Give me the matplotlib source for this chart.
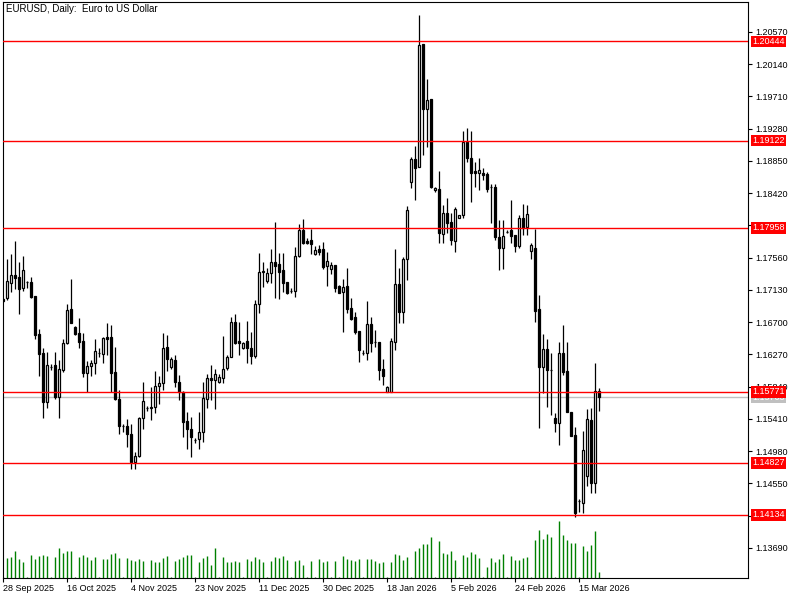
import numpy as np
import matplotlib
matplotlib.use('Agg')
import matplotlib.pyplot as plt

plt.rcParams['font.family'] = ['Liberation Sans', 'DejaVu Sans']
plt.rcParams['font.size'] = 6.5

# EURUSD daily bars, 28 Sep 2025 .. 20 Mar 2026 (broker has Sunday bars)
opens = [1.17010, 1.17023, 1.17223, 1.17330, 1.17303, 1.17157, 1.17237, 1.17237, 1.17050, 1.16543,
         1.16290, 1.15637, 1.16103, 1.16130, 1.15703, 1.16063, 1.16423, 1.16877, 1.16637, 1.16557,
         1.16450, 1.16023, 1.16117, 1.16157, 1.16290, 1.16277, 1.16503, 1.16503, 1.16037, 1.15677,
         1.15317, 1.15317, 1.15210, 1.14837, 1.14917, 1.15423, 1.15557, 1.15557, 1.15570, 1.15850,
         1.15890, 1.16370, 1.16103, 1.16197, 1.15903, 1.15770, 1.15383, 1.15277, 1.15130, 1.15143,
         1.15237, 1.15677, 1.15957, 1.15930, 1.15903, 1.15957, 1.16090, 1.16237, 1.16703, 1.16450,
         1.16357, 1.16450, 1.16357, 1.16250, 1.16943, 1.17370, 1.17250, 1.17357, 1.17503, 1.17477,
         1.17397, 1.17237, 1.17117, 1.17117, 1.17583, 1.17930, 1.17783, 1.17797, 1.17610, 1.17677,
         1.17677, 1.17450, 1.17410, 1.17463, 1.17183, 1.17103, 1.17183, 1.16890, 1.16770, 1.16583,
         1.16290, 1.16290, 1.16677, 1.16437, 1.16437, 1.16077, 1.15770, 1.15770, 1.16437, 1.17210,
         1.16837, 1.17543, 1.18570, 1.18877, 1.18770, 1.20410, 1.19543, 1.19677, 1.18463, 1.18477,
         1.17877, 1.18157, 1.18037, 1.17783, 1.18090, 1.18130, 1.19103, 1.18890, 1.18717, 1.18690,
         1.18690, 1.18677, 1.18503, 1.18503, 1.17837, 1.17690, 1.17903, 1.17930, 1.17863, 1.17717,
         1.18090, 1.17970, 1.17650, 1.17690, 1.16877, 1.16103, 1.16343, 1.16063, 1.15423, 1.15357,
         1.16290, 1.16050, 1.15503, 1.15197, 1.14317, 1.14290, 1.14650, 1.15397, 1.14557, 1.15783]
highs = [1.17023, 1.17543, 1.17610, 1.17783, 1.17503, 1.17583, 1.17250, 1.17303, 1.17050, 1.16610,
         1.16357, 1.16303, 1.16143, 1.16303, 1.16197, 1.16477, 1.16943, 1.17277, 1.16650, 1.16757,
         1.16557, 1.16183, 1.16197, 1.16477, 1.16357, 1.16503, 1.16690, 1.16663, 1.16370, 1.15797,
         1.15343, 1.15410, 1.15343, 1.14970, 1.15437, 1.15903, 1.15583, 1.15837, 1.16050, 1.15983,
         1.16557, 1.16530, 1.16237, 1.16263, 1.15997, 1.15783, 1.15503, 1.15437, 1.15157, 1.15503,
         1.15903, 1.16010, 1.16130, 1.16077, 1.16010, 1.16517, 1.16263, 1.16770, 1.16810, 1.16703,
         1.16437, 1.16717, 1.16570, 1.16997, 1.17623, 1.17503, 1.17423, 1.17677, 1.18037, 1.17623,
         1.17623, 1.17237, 1.17157, 1.17703, 1.18010, 1.18077, 1.17823, 1.17943, 1.17717, 1.17730,
         1.17770, 1.17637, 1.17503, 1.17463, 1.17197, 1.17277, 1.17423, 1.17023, 1.16837, 1.16583,
         1.16330, 1.16983, 1.16770, 1.16597, 1.16437, 1.16210, 1.15850, 1.16490, 1.17677, 1.17423,
         1.17570, 1.18250, 1.18903, 1.19050, 1.20797, 1.20415, 1.19943, 1.19680, 1.18503, 1.18717,
         1.18263, 1.18357, 1.18157, 1.18237, 1.18135, 1.19250, 1.19290, 1.19250, 1.18837, 1.18890,
         1.18757, 1.18703, 1.18543, 1.18543, 1.18063, 1.18063, 1.17930, 1.18330, 1.17863, 1.18130,
         1.18277, 1.18263, 1.17757, 1.17943, 1.17063, 1.16543, 1.16477, 1.16290, 1.15490, 1.16437,
         1.16663, 1.16437, 1.15505, 1.15303, 1.14343, 1.15250, 1.15543, 1.15557, 1.16157, 1.15823]
lows = [1.16970, 1.16997, 1.17103, 1.17143, 1.16810, 1.17117, 1.17157, 1.17023, 1.16477, 1.15983,
        1.15423, 1.15557, 1.16063, 1.15677, 1.15423, 1.16037, 1.16410, 1.16685, 1.16530, 1.16357,
        1.15970, 1.15770, 1.15983, 1.16010, 1.16237, 1.16157, 1.16263, 1.15770, 1.15663, 1.15210,
        1.15237, 1.15037, 1.14743, 1.14743, 1.14903, 1.15277, 1.15517, 1.15397, 1.15490, 1.15610,
        1.15797, 1.16050, 1.16077, 1.15837, 1.15663, 1.15170, 1.15010, 1.14903, 1.15090, 1.15010,
        1.15103, 1.15557, 1.15663, 1.15543, 1.15890, 1.15890, 1.16063, 1.16230, 1.16410, 1.16263,
        1.16343, 1.16157, 1.16143, 1.16223, 1.16823, 1.17170, 1.17223, 1.17223, 1.17023, 1.17010,
        1.17103, 1.17077, 1.17090, 1.17037, 1.17570, 1.17743, 1.17743, 1.17610, 1.17597, 1.17597,
        1.17410, 1.17183, 1.17343, 1.17103, 1.17085, 1.16570, 1.16823, 1.16730, 1.16543, 1.16170,
        1.16263, 1.16197, 1.16303, 1.16370, 1.15930, 1.15863, 1.15765, 1.15765, 1.16330, 1.16690,
        1.16690, 1.17263, 1.18490, 1.18330, 1.18765, 1.18930, 1.19037, 1.18495, 1.18437, 1.17757,
        1.17757, 1.17890, 1.17730, 1.17637, 1.18085, 1.18090, 1.18837, 1.18303, 1.18503, 1.18463,
        1.18597, 1.18437, 1.18023, 1.17797, 1.17397, 1.17410, 1.17890, 1.17757, 1.17637, 1.17690,
        1.17863, 1.17863, 1.17543, 1.16703, 1.15290, 1.15757, 1.15570, 1.15463, 1.15237, 1.15063,
        1.15997, 1.15497, 1.15177, 1.14103, 1.14170, 1.14157, 1.14517, 1.14423, 1.14423, 1.15517]
closes = [1.16983, 1.17250, 1.17330, 1.17290, 1.17143, 1.17397, 1.17240, 1.17037, 1.16530, 1.16277,
          1.15637, 1.16130, 1.16100, 1.15703, 1.16077, 1.16423, 1.16863, 1.16690, 1.16543, 1.16437,
          1.16023, 1.16117, 1.16157, 1.16317, 1.16288, 1.16490, 1.16477, 1.16023, 1.15677, 1.15317,
          1.15320, 1.15210, 1.14837, 1.14917, 1.15423, 1.15650, 1.15560, 1.15570, 1.15850, 1.15890,
          1.16357, 1.16210, 1.16210, 1.15903, 1.15770, 1.15370, 1.15277, 1.15170, 1.15133, 1.15237,
          1.15690, 1.15957, 1.15930, 1.16010, 1.15970, 1.16077, 1.16237, 1.16703, 1.16423, 1.16423,
          1.16423, 1.16357, 1.16250, 1.16943, 1.17370, 1.17383, 1.17357, 1.17503, 1.17450, 1.17370,
          1.17223, 1.17090, 1.17120, 1.17583, 1.17930, 1.17757, 1.17757, 1.17743, 1.17663, 1.17637,
          1.17437, 1.17517, 1.17463, 1.17157, 1.17090, 1.17170, 1.16877, 1.16743, 1.16570, 1.16330,
          1.16293, 1.16677, 1.16423, 1.16440, 1.16063, 1.15983, 1.15837, 1.16450, 1.17210, 1.16837,
          1.17543, 1.18197, 1.18877, 1.18757, 1.20397, 1.19543, 1.19663, 1.18503, 1.18490, 1.17890,
          1.18157, 1.18023, 1.17797, 1.18210, 1.18130, 1.19103, 1.18890, 1.18690, 1.18690, 1.18730,
          1.18663, 1.18477, 1.18500, 1.17837, 1.17690, 1.17850, 1.17900, 1.17850, 1.17717, 1.18090,
          1.17957, 1.18143, 1.17730, 1.16850, 1.16103, 1.16343, 1.16063, 1.16060, 1.15357, 1.16290,
          1.16037, 1.15503, 1.15183, 1.14157, 1.14320, 1.14997, 1.15410, 1.14557, 1.15783, 1.15703]
# tick volume, thousands
volumes = [3, 60, 63, 81, 57, 48, 3, 69, 57, 66, 69, 66, 3, 63, 90, 75, 81, 81,
           3, 63, 69, 63, 54, 63, 3, 57, 57, 72, 75, 60, 3, 60, 54, 51, 57, 51,
           3, 54, 48, 48, 60, 66, 3, 51, 57, 63, 69, 69, 3, 48, 60, 66, 39, 90,
           3, 63, 48, 48, 51, 48, 3, 57, 51, 63, 57, 48, 3, 51, 63, 60, 66, 54,
           3, 51, 54, 39, 3, 51, 3, 57, 48, 51, 3, 51, 3, 66, 57, 54, 51, 57,
           3, 57, 57, 51, 45, 48, 3, 48, 72, 69, 54, 63, 3, 81, 90, 102, 102, 123,
           3, 111, 75, 72, 81, 54, 3, 69, 63, 78, 72, 60, 3, 33, 60, 48, 57, 72,
           3, 66, 54, 54, 60, 63, 3, 114, 144, 117, 132, 123, 3, 171, 129, 114, 105, 105,
           3, 96, 81, 99, 141, 18]

date_labels = ['28 Sep 2025', '16 Oct 2025', '4 Nov 2025', '23 Nov 2025', '11 Dec 2025',
               '30 Dec 2025', '18 Jan 2026', '5 Feb 2026', '24 Feb 2026', '15 Mar 2026']
date_bars = [0, 16, 32, 48, 64, 80, 96, 112, 128, 144]
price_ticks = [1.13690, 1.14120, 1.14550, 1.14980, 1.15410, 1.15840, 1.16270, 1.16700, 1.17130,
               1.17560, 1.17990, 1.18420, 1.18850, 1.19280, 1.19710, 1.20140, 1.20570]
# these two sit under the level boxes, MT hides them
hidden_ticks = [1.14120, 1.17990]
levels = [1.20444, 1.19122, 1.17958, 1.15771, 1.14827, 1.14134]

o = np.array(opens)
h = np.array(highs)
l = np.array(lows)
c = np.array(closes)
x = np.arange(len(o))
up = c >= o

fig = plt.figure(figsize=(8, 6), dpi=100)
ax = fig.add_axes([2.5/800, 22/600, 745.5/800, 576/600])
ax.set_xlim(-0.05, 186.3)
ax.set_ylim(1.13290, 1.20970)

# volumes at the bottom
ax.vlines(x, 0, np.array(volumes) / 1728.0, transform=ax.get_xaxis_transform(),
          color='#008000', lw=1.0, zorder=1)

# candles
ax.vlines(x, l, h, color='black', lw=0.9, zorder=2)
ax.bar(x[up], c[up] - o[up], bottom=o[up], width=0.5, color='white',
       edgecolor='black', lw=0.9, zorder=3)
ax.bar(x[~up], o[~up] - c[~up], bottom=c[~up], width=0.5, color='black',
       edgecolor='black', lw=0.9, zorder=3)

# bid line
ax.axhline(closes[-1], color='#C0C0C0', lw=1, zorder=1.5)
ax.text(1.0 + 4/745.5, closes[-1], f'{closes[-1]:.5f}', transform=ax.get_yaxis_transform(),
        ha='left', va='center', color='white', zorder=5, clip_on=False,
        bbox=dict(boxstyle='square,pad=0.12', fc='#C0C0C0', ec='none'))

# horizontal levels
for lv in levels:
    ax.axhline(lv, color='red', lw=1, zorder=4)
    ax.text(1.0 + 4/745.5, lv, f'{lv:.5f}', transform=ax.get_yaxis_transform(),
            ha='left', va='center', color='white', zorder=6, clip_on=False,
            bbox=dict(boxstyle='square,pad=0.15', fc='red', ec='none'))

ax.yaxis.tick_right()
ax.set_yticks(price_ticks)
ax.set_yticklabels(['' if p in hidden_ticks else f'{p:.5f}' for p in price_ticks])
ax.set_xticks(date_bars)
ax.set_xticklabels(date_labels, ha='left')
ax.tick_params(axis='y', direction='out', length=3, width=0.8, pad=2)
ax.tick_params(axis='x', direction='out', length=3, width=0.8, pad=1.5)
for s in ax.spines.values():
    s.set_linewidth(0.8)

fig.text(6/800, 1 - 9/600, 'EURUSD, Daily:  Euro to US Dollar', ha='left', va='center',
         fontsize=7)

fig.savefig('out.png', dpi=100)
